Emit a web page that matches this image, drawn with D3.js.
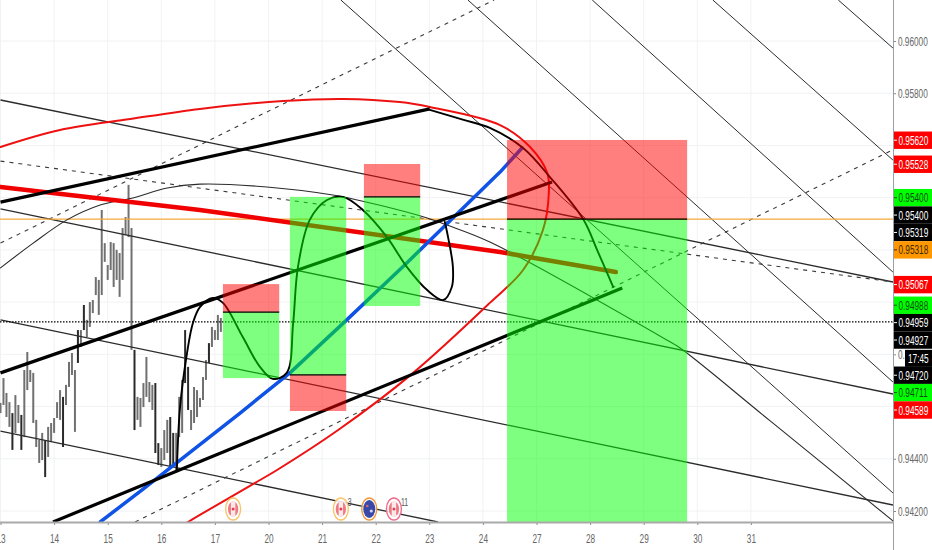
<!DOCTYPE html>
<html>
<head>
<meta charset="utf-8">
<script src="https://cdn.jsdelivr.net/npm/d3@7"></script>
<style>
html,body{margin:0;padding:0;background:#fff;overflow:hidden}
svg{display:block}
text{font-family:"Liberation Sans",Arial,sans-serif}
</style>
</head>
<body>
<svg id="chart" width="932" height="550"></svg>
<script>
// Prices are in points (price x 100000); x values are trading sessions from the first day.
const dayLabels = ["13","14","15","16","17","20","21","22","23","24","27","28","29","30","31"];
const priceTicks = [94200,94400,94600,94800,95000,95200,95400,95600,95800,96000];

const candleHigh = [94614,94709,94652,94617,94575,94644,94606,94568,94740,94809,94740,94729,94549,94472,94499,94472,94522,94537,94556,94617,94663,94637,94683,94771,94805,94740,94893,94893,94989,94932,95000,95008,95096,95085,95353,95226,95142,95230,95226,95200,95188,95284,95326,95449,95284,94817,94637,94633,94690,94790,94694,94683,94690,94460,94441,94510,94549,94560,94499,94499,94637,94702,94893,94752,94587,94675,94663,94633,94713,94778,94843,94905,94893,94951,94939];
const candleLow = [94575,94606,94560,94522,94434,94499,94537,94434,94483,94663,94694,94537,94445,94384,94395,94330,94407,94464,94499,94556,94549,94445,94606,94675,94721,94503,94767,94828,94893,94866,94905,94958,95027,94951,95027,95154,95085,95123,95058,95085,95020,95085,95257,95249,94817,94510,94549,94522,94598,94637,94617,94587,94422,94376,94369,94395,94422,94369,94369,94346,94483,94499,94690,94587,94510,94537,94560,94598,94625,94702,94767,94828,94855,94855,94886];
const darkBars = [4,7,15,21,26,28,45,52,53,57,58,62,63,70];
const barsPerSession = 18;

const steepLines = [
  [6.35,96157,16.65,94269],
  [8.72,96157,16.65,94694],
  [11.04,96157,16.65,95115],
  [13.29,96157,16.65,95544],
  [15.63,96157,16.65,95973]
];
const channelLines = [
  [0,95774,16.65,95077],
  [0,95357,16.65,94648],
  [0,94932,16.65,94223],
  [0,94506,8.16,94158]
];
const dashedLines = [
  [0,95226,9.21,96157],
  [2.51,94158,16.65,95583],
  [0,95540,16.65,95077]
];
const thickBlackLines = [
  [0,95383,8.01,95740],
  [0,94729,10.29,95460],
  [0.98,94158,11.60,95054]
];
const redLineSessions = [0,3.72,9.32,11.48];
const redLinePrices = [95441,95353,95192,95115];
const blueSessions = [1.86,2.66,4.47,5.40,6.46,7.58,9.32,9.73];
const bluePrices = [94158,94284,94575,94729,94932,95150,95498,95590];

const redArcSessions = [0,1.11,2.42,3.72,5.27,6.39,7.45,8.01,9.32,9.88,10.20,10.23,10.12,9.75,9.13,7.70,6.30,5.16,4.71,3.72,3.35];
const redArcPrices = [95594,95659,95701,95740,95770,95778,95766,95747,95678,95594,95495,95418,95276,95123,94997,94729,94510,94357,94303,94185,94139];
const thinArcSessions = [0,0.61,1.24,1.86,2.47,3.11,3.72,4.97,6.20,7.21,7.96,8.33,9.13,12.43,12.68,14.36,16.65];
const thinArcPrices = [95131,95226,95315,95372,95399,95437,95452,95441,95410,95364,95322,95295,95230,94855,94824,94545,94162];
const topCurveSessions = [8.01,8.64,9.13,9.75,10.25,10.87,11.13,11.43];
const topCurvePrices = [95736,95698,95667,95590,95479,95318,95200,95058];
const waveSessions = [3.29,3.35,3.48,3.59,3.72,3.96,4.15,4.52,4.84,5.08,5.34,5.46,5.55,5.77,6.09,6.39,6.76,7.21,7.58,7.96,8.26,8.42,8.44,8.35,8.29];
const wavePrices = [94357,94598,94805,94920,94981,95016,94997,94866,94752,94706,94729,94920,95135,95315,95391,95403,95353,95249,95135,95046,95008,95058,95135,95249,95307];

const boxStart = [4.15,5.40,6.78,9.45];
const boxEnd = [5.20,6.45,7.83,12.81];
const boxTop = [95069,95403,95529,95621];
const boxEntry = [94962,94721,95403,95318];
const boxBottom = [94709,94583,94985,94158];
const boxTopColor = ["#ff0000","#00ff00","#ff0000","#ff0000"];
const boxBottomColor = ["#00ff00","#ff0000","#00ff00","#00ff00"];

const orangeLevel = 95318;
const dottedLevel = 94924;

const labelValues = [95620,95528,95400,95400,95319,95318,95067,94988,94959,94927,94720,94711,94589];
const labelFill = ["#ff0000","#ff0000","#00ff00","#000000","#000000","#ff9800","#ff0000","#00ff00","#000000","#000000","#000000","#00ff00","#ff0000"];
const labelInk = ["#ffffff","#ffffff","#0f4d14","#ffffff","#ffffff","#3a2a00","#ffffff","#0f4d14","#ffffff","#ffffff","#ffffff","#0f4d14","#ffffff"];
const countdownText = "17:45";
const countdownPrice = 94800;

const eventSessions = [4.34,6.35,6.88,7.34];
const eventKinds = ["ca","ca","au","ca"];
const eventRing = ["#f9c46b","#f9c46b","#ee9a3a","#f06a8c"];
const eventCounts = ["","3","","11"];

const W = 932, H = 550, plotW = 893, plotH = 522;
const x = d3.scaleLinear().domain([0,16.65]).range([0.5,0.5+16.65*53.6]);
const y = d3.scaleLinear().domain([94200,96000]).range([511,41]);
const svg = d3.select("#chart");

const defs = svg.append("defs");
defs.append("clipPath").attr("id","plot")
  .append("rect").attr("width",plotW).attr("height",plotH);
defs.append("filter").attr("id","soft").append("feGaussianBlur").attr("stdDeviation",0.35);

// the chart's price text is condensed: squeeze it horizontally around its anchor
function narrow(sel,tx,ty){
  sel.attr("x",0).attr("transform",`translate(${tx||0},${ty||0}) scale(0.66,1)`);
}

// grid
const grid = svg.append("g");
grid.selectAll("line.h").data(priceTicks).join("line")
  .attr("x1",0).attr("x2",plotW).attr("y1",d=>y(d)).attr("y2",d=>y(d))
  .attr("stroke","#f1f2f4").attr("stroke-width",1);
grid.selectAll("line.v").data(dayLabels).join("line")
  .attr("x1",(d,i)=>x(i)).attr("x2",(d,i)=>x(i)).attr("y1",0).attr("y2",plotH)
  .attr("stroke","#f1f2f4").attr("stroke-width",1);

const plot = svg.append("g").attr("clip-path","url(#plot)");

// candles
plot.append("g").attr("filter","url(#soft)").selectAll("line").data(candleHigh).join("line")
  .attr("x1",(d,i)=>x(i/barsPerSession)).attr("x2",(d,i)=>x(i/barsPerSession))
  .attr("y1",d=>y(d)).attr("y2",(d,i)=>y(candleLow[i]))
  .attr("stroke",(d,i)=>darkBars.includes(i)?"#2a2a2a":"#707070").attr("stroke-width",2);

function segs(data,cls,color,width,dash){
  plot.selectAll("line."+cls).data(data).join("line").attr("class",cls)
    .attr("x1",d=>x(d[0])).attr("y1",d=>y(d[1])).attr("x2",d=>x(d[2])).attr("y2",d=>y(d[3]))
    .attr("stroke",color).attr("stroke-width",width).attr("stroke-dasharray",dash||null);
}
const straight = d3.line().x(d=>x(d[0])).y(d=>y(d[1]));
const smooth = d3.line().x(d=>x(d[0])).y(d=>y(d[1])).curve(d3.curveCatmullRom.alpha(0.5));
function path(ss,ps,gen,color,width){
  plot.append("path").attr("d",gen(ss.map((s,i)=>[s,ps[i]])))
    .attr("fill","none").attr("stroke",color).attr("stroke-width",width)
    .attr("stroke-linejoin","round").attr("stroke-linecap","round");
}

segs(steepLines,"steep","#2b2b2b",1);
segs(channelLines,"chan","#2b2b2b",1.3);
segs(dashedLines,"dash","#3a3a3a",1.1,"4 5");

// levels
plot.append("line").attr("x1",0).attr("x2",plotW).attr("y1",y(orangeLevel)).attr("y2",y(orangeLevel))
  .attr("stroke","#f5a93a").attr("stroke-width",1.4);
plot.append("line").attr("x1",0).attr("x2",plotW).attr("y1",y(dottedLevel)).attr("y2",y(dottedLevel))
  .attr("stroke","#000").attr("stroke-width",1.2).attr("stroke-dasharray","1.5 1.5");

path(thinArcSessions,thinArcPrices,smooth,"#2b2b2b",1.1);
path(redArcSessions,redArcPrices,smooth,"#ee1111",2);
path(redLineSessions,redLinePrices,straight,"#f00000",4.5);
path(blueSessions,bluePrices,straight,"#0f52e6",3.5);
segs(thickBlackLines,"thick","#000",3.2);
path(topCurveSessions,topCurvePrices,smooth,"#000",1.9);
path(waveSessions,wavePrices,smooth,"#000",1.9);

// calendar events
const ev = plot.selectAll("g.ev").data(eventSessions).join("g").attr("class","ev")
  .attr("transform",d=>`translate(${x(d)},509)`);
ev.append("ellipse").attr("rx",7.5).attr("ry",11).attr("fill","#fff").attr("fill-opacity",0.85)
  .attr("stroke",(d,i)=>eventRing[i]).attr("stroke-width",1.4);
ev.append("ellipse").attr("rx",(d,i)=>eventKinds[i]==="au"?6:5.2).attr("ry",(d,i)=>eventKinds[i]==="au"?9:7.5)
  .attr("fill",(d,i)=>eventKinds[i]==="au"?"#3a49a8":"#ee7a84");
ev.filter((d,i)=>eventKinds[i]==="ca").append("rect").attr("x",-2.2).attr("y",-7.5).attr("width",4.4).attr("height",15).attr("fill","#fbe9ea");
ev.filter((d,i)=>eventKinds[i]==="ca").append("circle").attr("r",1.5).attr("fill","#e5404e");
ev.filter((d,i)=>eventKinds[i]==="au").append("circle").attr("r",1.6).attr("cx",2).attr("cy",2).attr("fill","#cfd4ef");
ev.filter((d,i)=>eventKinds[i]==="au").append("circle").attr("r",1.3).attr("cx",-2).attr("cy",-3).attr("fill","#cf6a7a");
ev.filter((d,i)=>eventCounts[i]!=="").append("text").text(d=>eventCounts[eventSessions.indexOf(d)])
  .attr("y",-3).attr("font-size",10.5).attr("fill","#555").call(narrow,7,0);

// position boxes, above the drawings so the lines show through
const boxes = plot.selectAll("g.box").data(boxStart).join("g").attr("class","box");
boxes.append("rect").attr("x",d=>x(d)).attr("width",(d,i)=>x(boxEnd[i])-x(d))
  .attr("y",(d,i)=>y(boxTop[i])).attr("height",(d,i)=>y(boxEntry[i])-y(boxTop[i]))
  .attr("fill",(d,i)=>boxTopColor[i]).attr("fill-opacity",0.5);
boxes.append("rect").attr("x",d=>x(d)).attr("width",(d,i)=>x(boxEnd[i])-x(d))
  .attr("y",(d,i)=>y(boxEntry[i])).attr("height",(d,i)=>y(boxBottom[i])-y(boxEntry[i]))
  .attr("fill",(d,i)=>boxBottomColor[i]).attr("fill-opacity",0.5);
boxes.append("line").attr("x1",d=>x(d)).attr("x2",(d,i)=>x(boxEnd[i]))
  .attr("y1",(d,i)=>y(boxEntry[i])).attr("y2",(d,i)=>y(boxEntry[i]))
  .attr("stroke","#000").attr("stroke-width",1.3);

// stacked price labels: each sits at its price, pushed down when it would overlap the one above
const labelH = 17.4;
let prev = -Infinity;
const labelY = labelValues.map(v=>{const p=Math.max(y(v),prev+labelH);prev=p;return p;});

// axes
const yAxis = svg.append("g").attr("transform",`translate(${plotW},0)`)
  .call(d3.axisRight(y).tickValues(priceTicks).tickSize(3).tickPadding(2)
    .tickFormat(d=>d===countdownPrice?"0.":(d/100000).toFixed(5)));
yAxis.select(".domain").remove();
yAxis.selectAll("line").attr("stroke","#888");
yAxis.selectAll("text").attr("font-size",12.5).attr("fill","#666").call(narrow,5,0);
// price labels cover the axis ticks they sit on
yAxis.selectAll(".tick").filter(d=>labelY.some(p=>Math.abs(p-y(d))<labelH/2+4)).select("text").remove();
svg.append("line").attr("x1",plotW+0.5).attr("x2",plotW+0.5).attr("y1",0).attr("y2",H)
  .attr("stroke","#9aa0a6").attr("stroke-width",1);

const xAxis = svg.append("g").attr("transform",`translate(0,${plotH})`)
  .call(d3.axisBottom(x).tickValues(dayLabels.map((d,i)=>i)).tickSize(3).tickPadding(9)
    .tickFormat((d,i)=>dayLabels[i]));
xAxis.select(".domain").remove();
xAxis.selectAll("line").attr("stroke","#888");
xAxis.selectAll("text").attr("font-size",12.5).attr("fill","#666").call(narrow,0,0);
svg.append("line").attr("x1",0).attr("x2",plotW+0.5).attr("y1",plotH+0.5).attr("y2",plotH+0.5)
  .attr("stroke","#a9a9a9").attr("stroke-width",2);

const labels = svg.selectAll("g.lab").data(labelValues).join("g").attr("class","lab")
  .attr("transform",(d,i)=>`translate(${plotW+1},${labelY[i]})`);
labels.append("rect").attr("y",-labelH/2).attr("width",W-plotW-1).attr("height",labelH)
  .attr("fill",(d,i)=>labelFill[i]);
labels.append("line").attr("x1",0).attr("x2",3).attr("stroke",(d,i)=>labelInk[i]);
labels.append("text").text(d=>(d/100000).toFixed(5)).attr("dy","0.36em").attr("font-size",12.5)
  .attr("fill",(d,i)=>labelInk[i]).call(narrow,4.5,0);

// countdown block on the current price label
const cd = svg.append("g").attr("transform",`translate(905,${y(countdownPrice)+4})`);
cd.append("rect").attr("y",-8.5).attr("width",W-905).attr("height",17).attr("fill","#000");
cd.append("text").text(countdownText).attr("dy","0.36em").attr("font-size",12.5).attr("fill","#fff").call(narrow,3,0);
</script>
</body>
</html>
